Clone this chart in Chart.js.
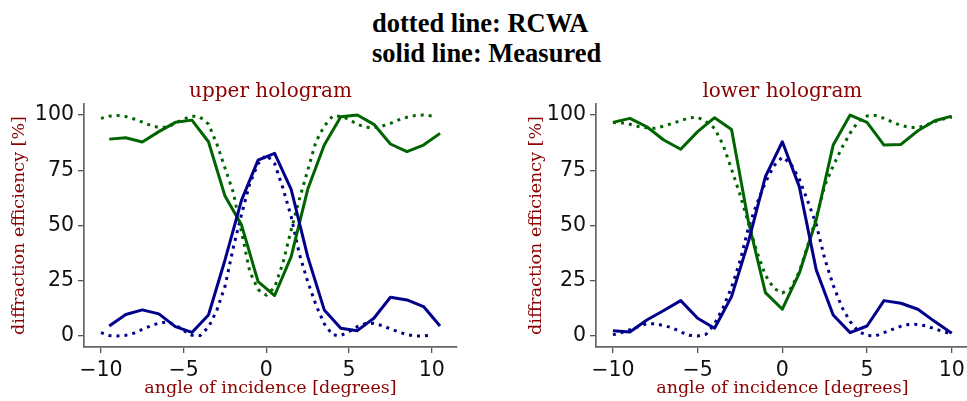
<!DOCTYPE html>
<html>
<head>
<meta charset="utf-8">
<script src="https://cdn.jsdelivr.net/npm/chart.js@4.4.1/dist/chart.umd.min.js"></script>
<style>
  html, body { margin: 0; padding: 0; background: #fff; }
  body { width: 967px; height: 401px; overflow: hidden; position: relative; }
  #suptitle {
    position: absolute; left: 372px; top: 8px;
    font: bold 26.5px "Liberation Serif", "Times New Roman", serif;
    line-height: 30px; color: #000; white-space: nowrap;
  }
  canvas { position: absolute; top: 80px; }
  #upperChart { left: 0px; }
  #lowerChart { left: 483px; }
</style>
</head>
<body>
<div id="suptitle">dotted line: RCWA<br>solid line: Measured</div>
<canvas id="upperChart" width="483" height="321"></canvas>
<canvas id="lowerChart" width="510" height="321"></canvas>
<script>
// angles [degrees]
const upperAngles = [-9.5, -8.5, -7.5, -6.5, -5.5, -4.5, -3.5, -2.5, -1.5, -0.5, 0.5, 1.5, 2.5, 3.5, 4.5, 5.5, 6.5, 7.5, 8.5, 9.5, 10.5];
const lowerAngles = [-10, -9, -8, -7, -6, -5, -4, -3, -2, -1, 0, 1, 2, 3, 4, 5, 6, 7, 8, 9, 10];
const rcwaAngles = [-10, -9.5, -9, -8.5, -8, -7.5, -7, -6.5, -6, -5.5, -5, -4.5, -4, -3.5, -3, -2.5, -2, -1.5, -1, -0.5,
  0, 0.5, 1, 1.5, 2, 2.5, 3, 3.5, 4, 4.5, 5, 5.5, 6, 6.5, 7, 7.5, 8, 8.5, 9, 9.5, 10];

// UPPER HOLOGRAM (diffraction efficiency %)
const upperMeasGreen = [89.1, 89.7, 87.8, 92.5, 96.7, 97.7, 87.9, 63.3, 50.2, 24.6, 18.3, 35.9, 66.4, 86.4, 99.2, 100, 95.8, 86.9, 83.4, 86.4, 91.7];
const upperMeasBlue = [4.5, 9.7, 11.8, 10, 4.2, 1.6, 9.5, 34.4, 61.5, 79.6, 82.7, 66.4, 35.9, 11.8, 3.5, 2.4, 8, 17.5, 16.3, 13.3, 4.5];
const upperRcwaGreen = [98.5, 99.5, 99.8, 99.3, 98.2, 96.8, 95.3, 94.4, 94.5, 96.3, 98.2, 99.6, 99, 95.9, 87, 76, 65, 47, 29, 21,
  18.5, 22, 33, 48, 62, 75, 88, 95, 99.5, 99.5, 98, 95.8, 94.5, 94.3, 95, 96.2, 97.8, 99, 99.8, 100, 99.6];
const upperRcwaBlue = [1.5, 0.2, 0, 0.3, 1.3, 3, 4.5, 5.8, 6.3, 5, 2.5, 0.3, 0.2, 4, 11.5, 22.5, 40, 55, 69, 78,
  82, 78, 67, 54, 37, 24.6, 14, 5.5, 0.5, 0.2, 2, 4.2, 5.6, 5.7, 4.7, 3.2, 1.8, 0.6, 0, 0, 0.3];

// LOWER HOLOGRAM (diffraction efficiency %)
const lowerMeasGreen = [96.7, 98.5, 94.7, 88.7, 84.5, 92.5, 98.8, 93.5, 51.7, 19.6, 12.1, 28.4, 52.5, 86.4, 100, 96.7, 86.4, 86.7, 92.9, 97.4, 99.5];
const lowerMeasBlue = [2.4, 1.8, 7.2, 11.5, 16, 8, 3.5, 17.8, 42.7, 72.1, 87.9, 67.6, 29.9, 9.5, 1.5, 4.5, 16, 14.8, 12.1, 6.5, 1.2];
const lowerRcwaGreen = [96.6, 96.5, 95.8, 94.8, 94.2, 94, 95, 96.2, 97.5, 98.7, 99, 97, 94, 86.5, 75.5, 64, 51, 38, 27.5, 21.5,
  19.5, 21.5, 29, 41, 53.5, 68, 77, 85, 91.8, 97.4, 99.6, 99.8, 98.5, 96.8, 95.3, 94.4, 94.3, 95.5, 97, 98.2, 99];
const lowerRcwaBlue = [0.5, 1.5, 2.8, 4.2, 5.6, 5.5, 4.7, 3.7, 1.8, 0.3, 0, 0.8, 5.5, 12.8, 22, 33.8, 49, 60, 69.5, 77,
  81, 78, 71, 61, 50.5, 35, 23, 13.3, 6.5, 2, 0.2, 0, 1.5, 3, 4.4, 5.3, 5.2, 4.5, 3.2, 2, 0.8];

const xTicks = [-10, -5, 0, 5, 10];
const yTicks = [0, 25, 50, 75, 100];

const green = '#006400';
const blue = '#00008b';
const labelRed = '#8b0000';

function toPoints(xs, ys) {
  return xs.map((x, i) => ({ x: x, y: ys[i] }));
}

function minusLabel(v) {
  return v < 0 ? '\u2212' + Math.abs(v) : String(v);
}

// subplot title centred over the axes (not the canvas), like matplotlib
const panelTitle = {
  id: 'panelTitle',
  afterDraw(chart, args, opts) {
    const { ctx, chartArea } = chart;
    ctx.save();
    ctx.font = '20px "DejaVu Serif"';
    ctx.fillStyle = labelRed;
    ctx.textAlign = 'center';
    ctx.textBaseline = 'middle';
    ctx.fillText(opts.text, (chartArea.left + chartArea.right) / 2, 12);
    ctx.restore();
  }
};

function makeChart(id, title, angles, measGreen, measBlue, rcwaGreen, rcwaBlue, xMin, xMax, yAxisWidth, yTitleOffset, rightPad) {
  const ctx = document.getElementById(id).getContext('2d');
  const solid = { borderWidth: 3, pointRadius: 0, borderJoinStyle: 'round', fill: false, tension: 0 };
  const dotted = { borderWidth: 3, pointRadius: 0, borderDash: [3, 5], borderCapStyle: 'butt', fill: false, tension: 0 };
  return new Chart(ctx, {
    type: 'line',
    data: {
      datasets: [
        Object.assign({ label: 'Measured blue', data: toPoints(angles, measBlue), borderColor: blue }, solid),
        Object.assign({ label: 'Measured green', data: toPoints(angles, measGreen), borderColor: green }, solid),
        Object.assign({ label: 'RCWA blue', data: toPoints(rcwaAngles, rcwaBlue), borderColor: blue }, dotted),
        Object.assign({ label: 'RCWA green', data: toPoints(rcwaAngles, rcwaGreen), borderColor: green }, dotted)
      ]
    },
    plugins: [panelTitle],
    options: {
      responsive: false,
      animation: false,
      devicePixelRatio: 1,
      layout: { padding: { left: 0, right: rightPad, top: 24, bottom: 0 } },
      plugins: {
        legend: { display: false },
        tooltip: { enabled: false },
        title: { display: false },
        panelTitle: { text: title }
      },
      scales: {
        x: {
          type: 'linear',
          min: xMin,
          max: xMax,
          afterBuildTicks: axis => { axis.ticks = xTicks.map(v => ({ value: v })); },
          afterFit: axis => { axis.height = 54; },
          ticks: {
            callback: minusLabel,
            color: '#111',
            padding: 5,
            maxRotation: 0,
            font: { family: 'DejaVu Sans', size: 20.5 }
          },
          grid: { display: true, drawOnChartArea: false, drawTicks: true, tickLength: 6, color: '#555', lineWidth: 1.3 },
          border: { display: true, color: '#666', width: 1.7 },
          title: {
            display: true,
            text: 'angle of incidence [degrees]',
            color: labelRed,
            font: { family: 'DejaVu Serif', size: 17.5, lineHeight: 1.2 },
            padding: { top: 0, bottom: 2 }
          }
        },
        y: {
          type: 'linear',
          min: -5,
          max: 105,
          afterBuildTicks: axis => { axis.ticks = yTicks.map(v => ({ value: v })); },
          afterFit: axis => { axis.width = yAxisWidth; },
          ticks: {
            color: '#111',
            padding: 4,
            font: { family: 'DejaVu Sans', size: 20.5 }
          },
          grid: { display: true, drawOnChartArea: false, drawTicks: true, tickLength: 6, color: '#555', lineWidth: 1.3 },
          border: { display: true, color: '#666', width: 1.7 },
          title: {
            display: true,
            text: 'diffraction efficiency [%]',
            color: labelRed,
            font: { family: 'DejaVu Serif', size: 17.5, lineHeight: 1.2 },
            padding: { top: yTitleOffset, bottom: 0 }
          }
        }
      }
    }
  });
}

const upperChart = makeChart('upperChart', 'upper hologram', upperAngles, upperMeasGreen, upperMeasBlue,
  upperRcwaGreen, upperRcwaBlue, -11.025, 11.525, 84, 9, 26);
const lowerChart = makeChart('lowerChart', 'lower hologram', lowerAngles, lowerMeasGreen, lowerMeasBlue,
  lowerRcwaGreen, lowerRcwaBlue, -11, 11, 113, 43, 24.3);
</script>
</body>
</html>
